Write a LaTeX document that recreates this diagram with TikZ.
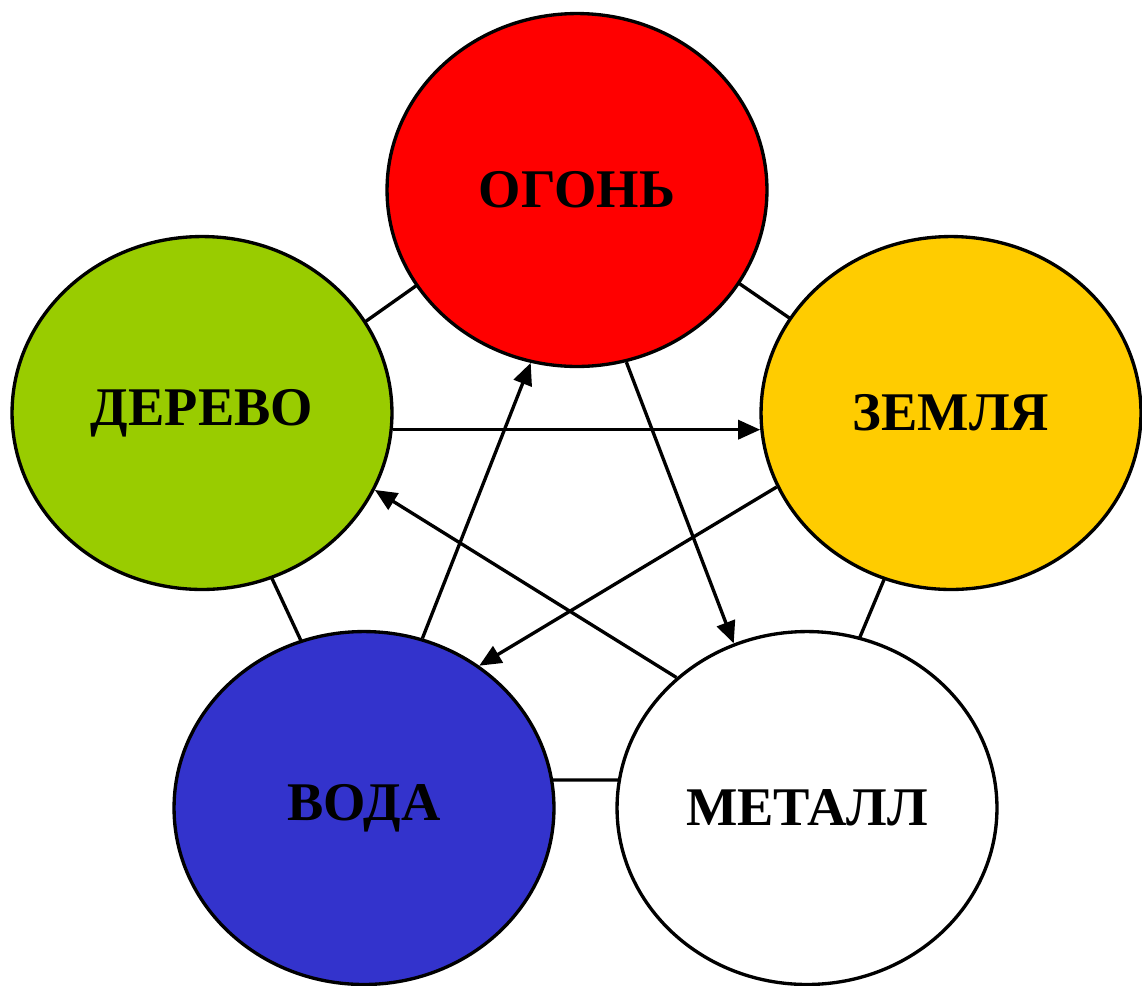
\documentclass[tikz,border=0pt]{standalone}
\usepackage{fontspec}
\setmainfont{Liberation Serif}
\usetikzlibrary{arrows.meta,shapes.geometric}
\definecolor{firered}{HTML}{FF0000}
\definecolor{woodgreen}{HTML}{99CC00}
\definecolor{earthyellow}{HTML}{FFCC00}
\definecolor{waterblue}{HTML}{3333CC}
\tikzset{
  element/.style={ellipse, draw=black, line width=1.9pt, minimum width=7.6cm, minimum height=7.06cm, inner sep=0pt,
    font=\fontsize{31}{32}\selectfont\bfseries},
  flow/.style={line width=1.9pt, -{Triangle[length=0.44cm,width=0.38cm]}},
  ring/.style={line width=1.9pt, line join=round}
}
\begin{document}
\begin{tikzpicture}[x=0.02cm,y=-0.02cm]
\useasboundingbox (0,0) rectangle (1142,985);
% background ring
\coordinate (r1) at (577,172);
\coordinate (r2) at (948,427);
\coordinate (r3) at (800,780);
\coordinate (r4) at (366,780);
\coordinate (r5) at (205,435);
\draw[ring] (r1) -- (r2) -- (r3) -- (r4) -- (r5) -- cycle;
% elements
\node[element, fill=firered] (ogon) at (577,190) {ОГОНЬ};
\node[element, fill=woodgreen] (derevo) at (202,413) {ДЕРЕВО};
\node[element, fill=earthyellow] (zemlya) at (951,413) {ЗЕМЛЯ};
\node[element, fill=waterblue] (voda) at (364,808) {ВОДА};
\node[element, fill=white] (metall) at (807,808) {МЕТАЛЛ};
% arrows
\draw[flow] (derevo.-5.7) -- (zemlya.185.7);
\draw[flow] (zemlya.203) -- (voda.51);
\draw[flow] (voda.71.9) -- (ogon.255.4);
\draw[flow] (ogon.-74.5) -- (metall.114.4);
\draw[flow] (metall.135.4) -- (derevo.-24.8);
\end{tikzpicture}
\end{document}
